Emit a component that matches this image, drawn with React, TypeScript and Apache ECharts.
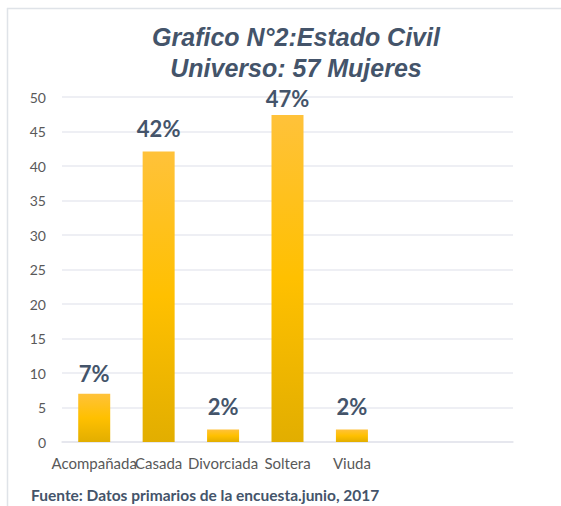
import React, { useEffect, useRef } from "react";
import * as echarts from "echarts";

const categories = ["Acompañada", "Casada", "Divorciada", "Soltera", "Viuda", "", ""];
const values = [7.0, 42.1, 1.8, 47.4, 1.8];
const percentLabels = ["7%", "42%", "2%", "47%", "2%"];
const titleLines = ["Grafico N°2:Estado Civil", "Universo: 57 Mujeres"];
const footer = "Fuente: Datos primarios de la encuesta.junio, 2017";
// label gaps above each bar (style only)
const labelGaps = [9, 12, 12, 5, 12];

export default function App() {
  const ref = useRef<HTMLDivElement>(null);
  useEffect(() => {
    const chart = echarts.init(ref.current!, null, { renderer: "svg" });
    chart.setOption({
      animation: false,
      backgroundColor: "#ffffff",
      title: {
        text: titleLines.join("\n"),
        left: 291,
        textAlign: "center",
        top: 16,
        textStyle: {
          fontFamily: "Liberation Sans",
          fontSize: 25,
          fontWeight: "bold",
          fontStyle: "italic",
          color: "#44546A",
          lineHeight: 31,
        },
      },
      graphic: [
        { type: "line", shape: { x1: 7, y1: 8.5, x2: 561, y2: 8.5 }, style: { stroke: "#dfe3e8", lineWidth: 1.5 } },
        { type: "line", shape: { x1: 7.5, y1: 8, x2: 7.5, y2: 506 }, style: { stroke: "#dfe3e8", lineWidth: 1.5 } },
        {
          type: "text",
          left: 31,
          top: 487,
          style: {
            text: footer,
            fontFamily: "Lato",
            fontSize: 15.5,
            fontWeight: "bold",
            fill: "#44546A",
          },
        },
      ],
      grid: { left: 62, right: 48, top: 97, bottom: 64 },
      xAxis: {
        type: "category",
        data: categories,
        axisLine: { show: true, lineStyle: { color: "#e3e5ec", width: 1.5 } },
        axisTick: { show: false },
        axisLabel: {
          interval: 0,
          margin: 13,
          fontFamily: "Lato",
          fontSize: 15,
          color: "#595959",
        },
      },
      yAxis: {
        type: "value",
        min: 0,
        max: 50,
        interval: 5,
        axisLine: { show: false },
        axisTick: { show: false },
        axisLabel: { margin: 16, fontFamily: "Lato", fontSize: 14, color: "#595959" },
        splitLine: { lineStyle: { color: "#e8eaf0", width: 1.5 } },
      },
      series: [
        {
          type: "bar",
          data: values.map((v, i) => ({ value: v, label: { distance: labelGaps[i] } })),
          barWidth: 32,
          itemStyle: {
            color: new echarts.graphic.LinearGradient(0, 0, 0, 1, [
              { offset: 0, color: "#FFC23A" },
              { offset: 0.5, color: "#FFC000" },
              { offset: 1, color: "#E2AE00" },
            ]),
          },
          label: {
            show: true,
            position: "top",
            formatter: (p: any) => percentLabels[p.dataIndex],
            fontFamily: "Lato",
            fontSize: 22,
            fontWeight: "bold",
            color: "#44546A",
          },
        },
      ],
    });
    return () => chart.dispose();
  }, []);
  return (
    <div
      ref={ref}
      style={{ position: "fixed", left: 0, top: 0, width: 561, height: 506 }}
    />
  );
}
